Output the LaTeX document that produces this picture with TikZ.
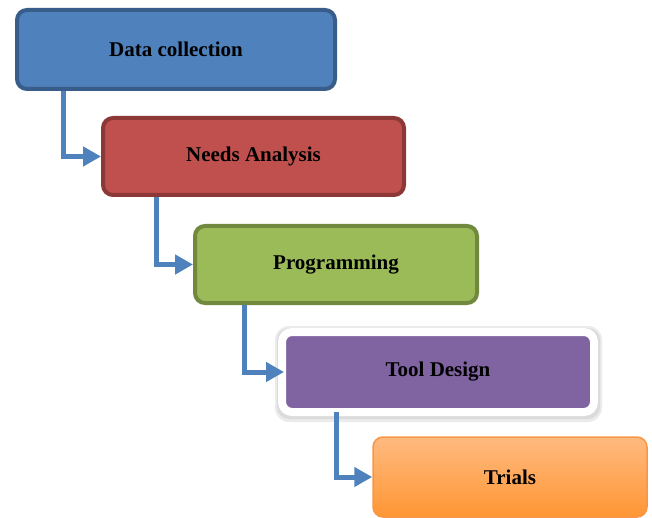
\documentclass[tikz,border=0pt]{standalone}
\usepackage{fontspec}
\setmainfont{Liberation Serif}
\usetikzlibrary{arrows.meta,backgrounds}
\definecolor{blueFill}{HTML}{4F81BD}
\definecolor{blueLine}{HTML}{385D8A}
\definecolor{redFill}{HTML}{C0504D}
\definecolor{redLine}{HTML}{8C3836}
\definecolor{greenFill}{HTML}{9BBB59}
\definecolor{greenLine}{HTML}{71893F}
\definecolor{purpleFill}{HTML}{8064A2}
\definecolor{orangeTop}{HTML}{FFBA80}
\definecolor{orangeBot}{HTML}{FF9634}
\definecolor{orangeLine}{HTML}{F79646}
\tikzset{
  stage/.style={rounded corners=10pt, align=center, inner sep=0pt,
    font=\fontsize{21}{25}\selectfont\bfseries},
  flow/.style={draw=blueFill, line width=5pt,
    -{Triangle[length=18pt,width=19pt]}}
}
\begin{document}
\begin{tikzpicture}[x=1pt,y=-1pt]
      \useasboundingbox (0,0) rectangle (652,518);
      % the five stages
      \node[stage, draw=blueLine, fill=blueFill, line width=4pt,
        minimum width=318pt, minimum height=79pt] (data) at (176,49.5) {Data collection};
      \node[stage, draw=redLine, fill=redFill, line width=4pt,
        minimum width=301pt, minimum height=77pt] (needs) at (253.5,156.5) {Needs Analysis};
      \node[stage, draw=greenLine, fill=greenFill, line width=4pt,
        minimum width=282pt, minimum height=77pt] (prog) at (336,264.5) {Programming};
      \node[stage, draw=white, fill=purpleFill, line width=8pt,
        minimum width=312pt, minimum height=80pt] (tool) at (438,372) {Tool Design};
      \node[stage, draw=orangeLine, top color=orangeTop, bottom color=orangeBot, line width=1.5pt,
        minimum width=274pt, minimum height=80pt] (trials) at (510,477) {Trials};
      % soft shadow round the white frame
      \begin{scope}[on background layer]
        \fill[black!8, rounded corners=14pt]
          ([xshift=-3pt,yshift=2pt]tool.north west) rectangle ([xshift=4pt,yshift=-6pt]tool.south east);
        \fill[black!14, rounded corners=12pt]
          ([xshift=-1pt,yshift=0pt]tool.north west) rectangle ([xshift=2pt,yshift=-3pt]tool.south east);
      \end{scope}
      % connectors
      \draw[flow] ([xshift=48pt]data.south west) |- (needs.west);
      \draw[flow] ([xshift=55pt]needs.south west) |- (prog.west);
      \draw[flow, shorten >=-6pt] ([xshift=51pt]prog.south west) |- (tool.west);
      \draw[flow] ([xshift=58pt,yshift=4pt]tool.south west) |- (trials.west);
\end{tikzpicture}
\end{document}
